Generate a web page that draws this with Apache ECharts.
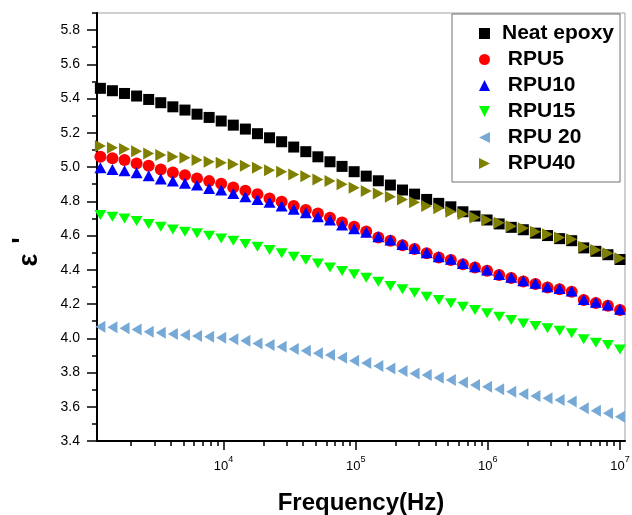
<!DOCTYPE html>
<html><head><meta charset="utf-8">
<script src="https://cdn.jsdelivr.net/npm/echarts@6/dist/echarts.min.js"></script>
<style>html,body{margin:0;padding:0;background:#fff}#c{width:632px;height:515px}</style>
</head><body><div id="c"></div>
<script>
// Frequency (Hz)
const freq = [1170, 1443, 1782, 2199, 2715, 3351, 4137, 5107, 6303, 7780,
  9603, 11855, 14633, 18060, 22295, 27517, 33972, 41931, 51761, 63893,
  78868, 97341, 120150, 148324, 183066, 225942, 278953, 344354, 425077, 524721,
  647686, 799488, 986513, 1217900, 1503300, 1855500, 2290900, 2827700, 3490600, 4308700,
  5318500, 6565300, 8101300, 10000000];

const neatEpoxy = [5.460,5.446,5.430,5.415,5.395,5.376,5.352,5.333,5.309,5.290,5.269,5.245,5.222,5.195,5.171,5.148,5.117,5.090,5.060,5.031,5.004,4.973,4.947,
  4.920,4.895,4.866,4.842,4.811,4.788,4.768,4.739,4.714,4.691,
  4.668,4.648,4.634,4.614,4.600,4.582,4.570,4.528,4.508,4.488,4.460];
const rpu5 = [5.060,5.051,5.041,5.021,5.008,4.986,4.969,4.953,4.934,4.918,4.903,4.881,4.862,4.842,4.817,4.798,4.772,4.749,4.729,4.704,4.677,4.652,4.624,
  4.589,4.570,4.544,4.521,4.496,4.472,4.457,4.433,4.414,4.395,4.369,4.352,4.332,4.317,4.297,4.287,4.272,4.223,4.206,4.190,4.165];
const rpu10 = [4.996,4.986,4.979,4.967,4.949,4.930,4.918,4.905,4.895,4.875,4.866,4.846,4.827,4.811,4.794,4.772,4.753,4.733,4.710,4.691,4.661,4.640,4.620,
  4.593,4.574,4.548,4.525,4.500,4.476,4.461,4.437,4.418,4.399,4.373,4.356,4.336,4.321,4.301,4.291,4.276,4.227,4.210,4.194,4.169];
const rpu15 = [4.720,4.710,4.700,4.685,4.667,4.652,4.636,4.622,4.613,4.599,4.583,4.570,4.550,4.535,4.515,4.496,4.476,4.457,4.437,4.414,4.393,4.374,4.353,
  4.330,4.305,4.286,4.266,4.243,4.223,4.204,4.184,4.165,4.146,4.126,4.107,4.087,4.072,4.058,4.044,4.029,3.994,3.974,3.961,3.935];
const rpu20 = [4.068,4.064,4.058,4.052,4.038,4.033,4.025,4.019,4.013,4.009,4.003,3.994,3.986,3.970,3.961,3.951,3.937,3.927,3.912,3.902,3.887,3.869,3.855,
  3.838,3.824,3.809,3.795,3.785,3.770,3.756,3.741,3.727,3.717,3.702,3.688,3.674,3.663,3.649,3.639,3.630,3.591,3.577,3.562,3.542];
const rpu40 = [5.123,5.113,5.105,5.093,5.080,5.070,5.060,5.054,5.041,5.031,5.025,5.016,5.008,4.996,4.982,4.973,4.957,4.947,4.928,4.918,4.899,4.879,4.861,
  4.846,4.827,4.811,4.794,4.772,4.759,4.739,4.726,4.706,4.691,4.675,4.655,4.642,4.622,4.607,4.589,4.578,4.535,4.515,4.496,4.467];

const seriesNames = ['Neat epoxy', 'RPU5', 'RPU10', 'RPU15', 'RPU 20', 'RPU40'];
const xMajorTicks = [1e4, 1e5, 1e6, 1e7];
const xMinorTicks = [2e3,3e3,4e3,5e3,6e3,7e3,8e3,9e3, 2e4,3e4,4e4,5e4,6e4,7e4,8e4,9e4,
  2e5,3e5,4e5,5e5,6e5,7e5,8e5,9e5, 2e6,3e6,4e6,5e6,6e6,7e6,8e6,9e6];
const yMajorTicks = [3.4,3.6,3.8,4.0,4.2,4.4,4.6,4.8,5.0,5.2,5.4,5.6,5.8];
const yMinorTicks = [3.5,3.7,3.9,4.1,4.3,4.5,4.7,4.9,5.1,5.3,5.5,5.7,5.9];

const FONT = '"Liberation Sans", Arial, sans-serif';
const SQ = 'path://M0,0L10,0L10,10L0,10Z';
const UP = 'path://M5,0L10,10L0,10Z';
const DOWN = 'path://M0,0L10,0L5,10Z';
const LEFT = 'path://M0,5L10,0L10,10Z';
const RIGHT = 'path://M0,0L10,5L0,10Z';

const seriesDefs = [
  {name: seriesNames[0], vals: neatEpoxy, symbol: SQ, size: [11, 11], color: '#000000', icon: SQ},
  {name: seriesNames[1], vals: rpu5, symbol: 'circle', size: 12, color: '#ff0000', icon: 'circle'},
  {name: seriesNames[2], vals: rpu10, symbol: UP, size: [12, 11], color: '#0000ff', icon: UP},
  {name: seriesNames[3], vals: rpu15, symbol: DOWN, size: [12, 10], color: '#00ff00', icon: DOWN},
  {name: seriesNames[4], vals: rpu20, symbol: LEFT, size: [10, 12], color: '#76a9d5', icon: LEFT},
  {name: seriesNames[5], vals: rpu40, symbol: RIGHT, size: [11, 12], color: '#808000', icon: RIGHT}
];

const chart = echarts.init(document.getElementById('c'), null, {renderer: 'canvas'});
const XMIN = 1103, XMAX = 10909000, YMIN = 3.4, YMAX = 5.9;

chart.setOption({
  animation: false,
  backgroundColor: '#ffffff',
  grid: {left: 97, right: 7, top: 13, bottom: 74, containLabel: false, outerBoundsMode: 'none',
    show: true, borderColor: '#a0a0a0', borderWidth: 1, backgroundColor: 'transparent'},
  legend: {
    orient: 'vertical', left: 452, top: 14,
    padding: [9, 6, 8, 27],
    itemWidth: 25, itemHeight: 11, itemGap: 5,
    backgroundColor: '#ffffff', borderColor: '#707070', borderWidth: 1,
    selectedMode: false, symbolKeepAspect: true,
    textStyle: {fontFamily: FONT, fontSize: 21, fontWeight: 'bold', color: '#000'},
    formatter: n => (n === seriesNames[0] ? n : ' ' + n),
    data: seriesDefs.map(d => ({name: d.name, icon: d.icon}))
  },
  xAxis: [{
    type: 'log', logBase: 10, min: XMIN, max: XMAX, position: 'bottom',
    name: 'Frequency(Hz)', nameLocation: 'middle', nameGap: 50,
    nameTextStyle: {fontFamily: FONT, fontSize: 24, fontWeight: 'bold', color: '#000'},
    axisLine: {show: true, onZero: false, lineStyle: {color: '#000', width: 2}},
    axisTick: {show: true, inside: false, length: 9, customValues: xMajorTicks, lineStyle: {color: '#000', width: 1.5}},
    axisLabel: {
      show: true, customValues: xMajorTicks, margin: 14,
      formatter: v => '{b|10}{s|' + Math.round(Math.log10(v)) + '}',
      rich: {
        b: {fontFamily: FONT, fontSize: 13, color: '#000', padding: [5, 0, 0, 0], verticalAlign: 'bottom'},
        s: {fontFamily: FONT, fontSize: 9, color: '#000', verticalAlign: 'top'}
      }
    },
    splitLine: {show: false}, minorTick: {show: false}
  }, {
    type: 'log', logBase: 10, min: XMIN, max: XMAX, position: 'bottom',
    axisLine: {show: false, onZero: false},
    axisTick: {show: true, inside: false, length: 5, customValues: xMinorTicks, lineStyle: {color: '#000', width: 1.5}},
    axisLabel: {show: false}, splitLine: {show: false}
  }],
  yAxis: [{
    type: 'value', min: YMIN, max: YMAX, position: 'left',
    name: "{e|ε}{p|'}", nameLocation: 'middle', nameRotate: 90, nameGap: 54,
    nameTextStyle: {
      padding: [0, 50, 0, 0],
      rich: {
        e: {fontFamily: FONT, fontSize: 27, fontWeight: 'bold', color: '#000', padding: [6, 0, 0, 0], verticalAlign: 'bottom'},
        p: {fontFamily: FONT, fontSize: 27, fontWeight: 'bold', color: '#000', padding: [0, 0, 0, 10], verticalAlign: 'top'}
      }
    },
    axisLine: {show: true, onZero: false, lineStyle: {color: '#000', width: 2}},
    axisTick: {show: true, inside: false, length: 10, customValues: yMajorTicks, lineStyle: {color: '#000', width: 1.5}},
    axisLabel: {show: true, customValues: yMajorTicks, margin: 17, fontFamily: FONT, fontSize: 14, color: '#000', formatter: v => v.toFixed(1)},
    splitLine: {show: false}
  }, {
    type: 'value', min: YMIN, max: YMAX, position: 'left',
    axisLine: {show: false, onZero: false},
    axisTick: {show: true, inside: false, length: 5, customValues: yMinorTicks, lineStyle: {color: '#000', width: 1.5}},
    axisLabel: {show: false}, splitLine: {show: false}
  }],
  series: seriesDefs.map(d => ({
    name: d.name, type: 'scatter', xAxisIndex: 0, yAxisIndex: 0,
    symbol: d.symbol, symbolSize: d.size, symbolKeepAspect: false,
    itemStyle: {color: d.color, opacity: 1},
    emphasis: {disabled: true},
    data: freq.map((f, i) => [f, d.vals[i]])
  }))
});
</script>
</body></html>
